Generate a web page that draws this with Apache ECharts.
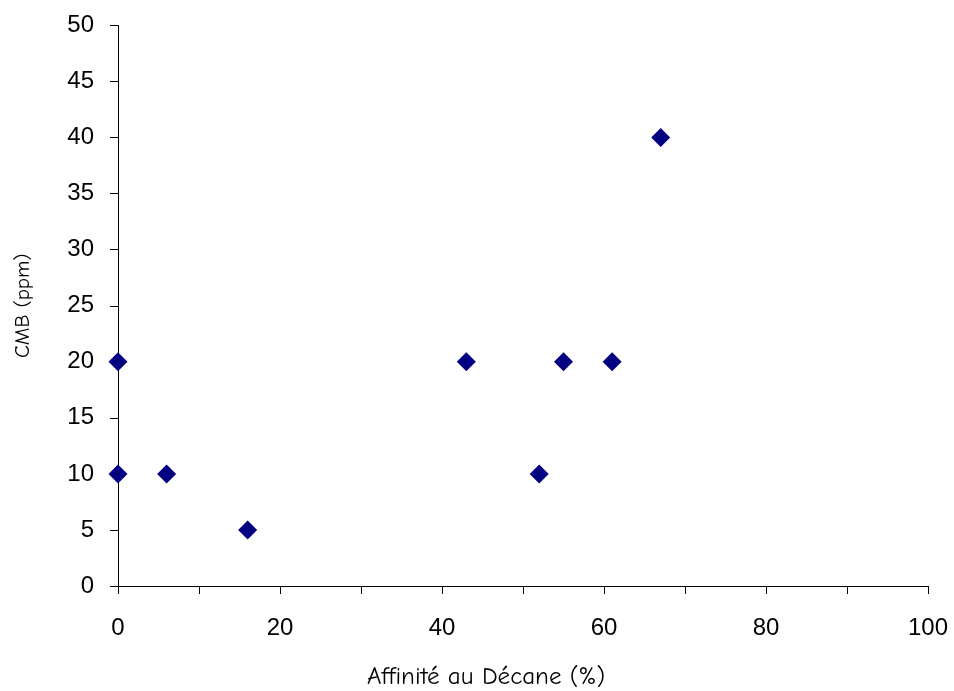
<!DOCTYPE html>
<html><head><meta charset="utf-8">
<script src="https://cdn.jsdelivr.net/npm/echarts@6/dist/echarts.min.js"></script>
<style>html,body{margin:0;padding:0;background:#fff}#c{width:954px;height:691px}</style>
</head><body><div id="c"></div>
<script>
const xValues = [0, 0, 6, 16, 43, 52, 55, 61, 67];
const yValues = [20, 10, 10, 5, 20, 10, 20, 20, 40];
const xTitle = 'Affinité au Décane (%)';
const yTitle = 'CMB (ppm)';

const chart = echarts.init(document.getElementById('c'), null, {renderer: 'canvas'});
const titleFont = '"Comic Sans MS", "Comic Neue", "DejaVu Sans", sans-serif';
const labelFont = '"Liberation Sans", Arial, sans-serif';
chart.setOption({
  animation: false,
  backgroundColor: '#fff',
  grid: {left: 118, right: 26, top: 25.5, bottom: 105, containLabel: false, outerBoundsMode: 'none'},
  xAxis: {
    type: 'value', min: 0, max: 100, interval: 10,
    name: xTitle, nameLocation: 'middle', nameGap: 78,
    nameTextStyle: {fontFamily: titleFont, fontSize: 25, color: '#000', padding: [0, 74, 0, 0]},
    axisLine: {show: true, onZero: false, lineStyle: {color: '#000', width: 1}},
    axisTick: {show: true, inside: false, length: 8, lineStyle: {color: '#000'}},
    axisLabel: {
      color: '#000', fontFamily: labelFont, fontSize: 24, margin: 30,
      formatter: v => (v % 20 === 0 ? String(v) : '')
    },
    splitLine: {show: false}
  },
  yAxis: {
    type: 'value', min: 0, max: 50, interval: 5,
    name: yTitle, nameLocation: 'middle', nameGap: 84,
    nameTextStyle: {fontFamily: titleFont, fontSize: 21, color: '#000'},
    axisLine: {show: true, onZero: false, lineStyle: {color: '#000', width: 1}},
    axisTick: {show: true, inside: false, length: 8, lineStyle: {color: '#000'}},
    axisLabel: {color: '#000', fontFamily: labelFont, fontSize: 24, margin: 24},
    splitLine: {show: false}
  },
  series: [{
    type: 'scatter',
    data: xValues.map((x, i) => [x, yValues[i]]),
    symbol: 'diamond', symbolSize: [19, 19],
    itemStyle: {color: '#000080', opacity: 1}
  }]
});
</script></body></html>
